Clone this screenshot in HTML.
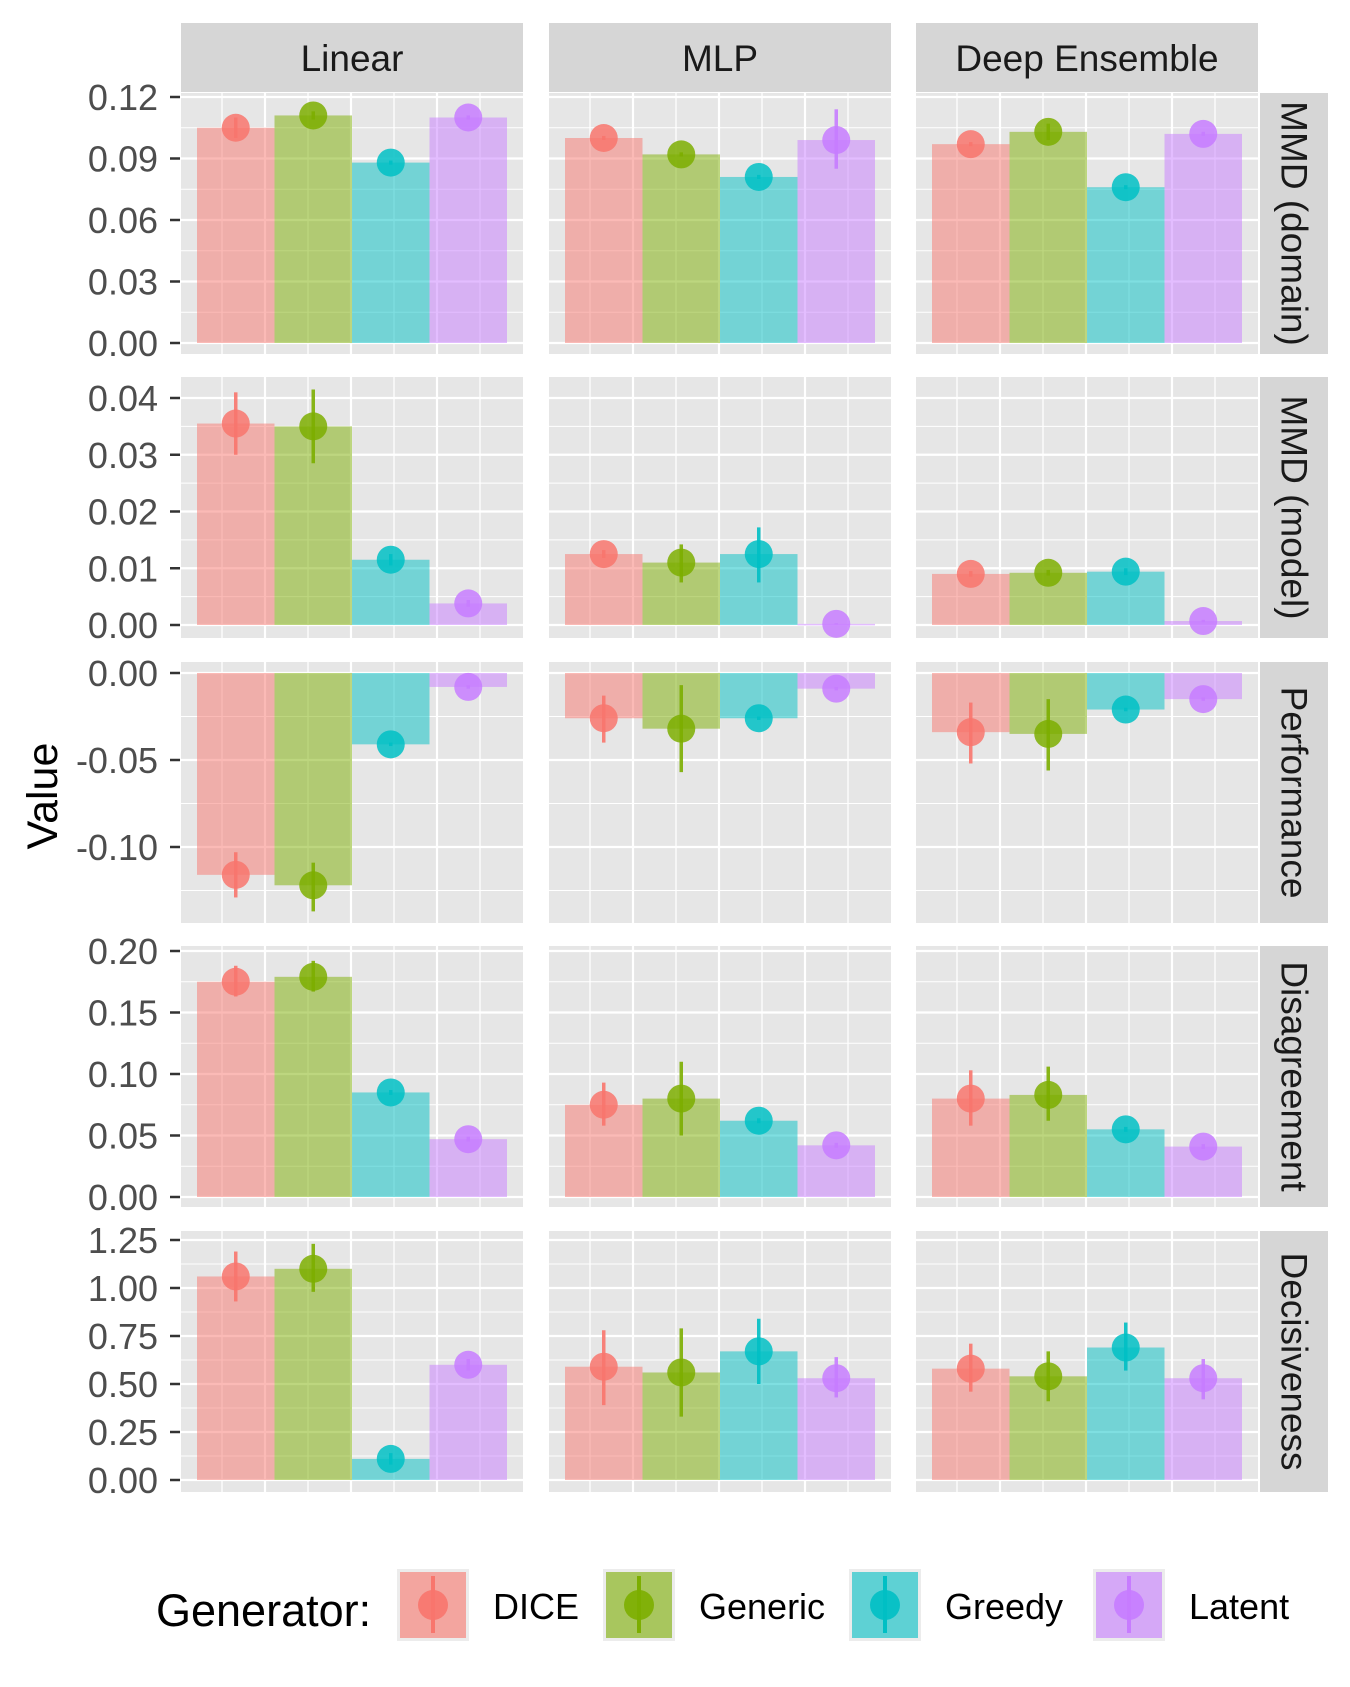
<!DOCTYPE html>
<html><head><meta charset="utf-8"><style>
body{margin:0;background:#fff;}
svg{display:block;font-family:"Liberation Sans",sans-serif;}
</style></head><body>
<svg id="chart" width="1350" height="1687" viewBox="0 0 1350 1687" xmlns="http://www.w3.org/2000/svg"></svg>
<script>
const models = ["Linear","MLP","Deep Ensemble"];
const metrics = ["MMD (domain)","MMD (model)","Performance","Disagreement","Decisiveness"];
const generators = ["DICE","Generic","Greedy","Latent"];
const mmdDomainMean = [[0.105,0.111,0.088,0.110],[0.100,0.092,0.081,0.099],[0.097,0.103,0.076,0.102]];
const mmdDomainLo   = [[0.100,0.109,0.087,0.109],[0.099,0.091,0.080,0.085],[0.096,0.099,0.075,0.101]];
const mmdDomainHi   = [[0.110,0.113,0.089,0.111],[0.101,0.093,0.082,0.114],[0.098,0.107,0.077,0.103]];
const mmdModelMean = [[0.0355,0.035,0.0115,0.0038],[0.0125,0.011,0.0125,0.0002],[0.009,0.0092,0.0094,0.0007]];
const mmdModelLo   = [[0.030,0.0285,0.0105,0.0032],[0.0118,0.0075,0.0075,0.0001],[0.0085,0.0087,0.0088,0.0005]];
const mmdModelHi   = [[0.041,0.0415,0.0125,0.0044],[0.0132,0.0142,0.0172,0.0003],[0.0095,0.0097,0.0100,0.0009]];
const perfMean = [[-0.116,-0.122,-0.041,-0.008],[-0.026,-0.032,-0.026,-0.009],[-0.034,-0.035,-0.021,-0.015]];
const perfLo   = [[-0.129,-0.137,-0.042,-0.009],[-0.040,-0.057,-0.027,-0.010],[-0.052,-0.056,-0.022,-0.016]];
const perfHi   = [[-0.103,-0.109,-0.040,-0.007],[-0.013,-0.007,-0.025,-0.008],[-0.017,-0.015,-0.020,-0.014]];
const disMean = [[0.175,0.179,0.085,0.047],[0.075,0.080,0.062,0.042],[0.080,0.083,0.055,0.041]];
const disLo   = [[0.163,0.167,0.083,0.045],[0.058,0.050,0.060,0.040],[0.058,0.062,0.053,0.039]];
const disHi   = [[0.188,0.192,0.087,0.049],[0.093,0.110,0.064,0.044],[0.103,0.106,0.057,0.043]];
const decMean = [[1.06,1.10,0.11,0.60],[0.59,0.56,0.67,0.53],[0.58,0.54,0.69,0.53]];
const decLo   = [[0.93,0.98,0.08,0.57],[0.39,0.33,0.50,0.43],[0.46,0.41,0.57,0.42]];
const decHi   = [[1.19,1.23,0.14,0.63],[0.78,0.79,0.84,0.64],[0.71,0.67,0.82,0.63]];
const tickLabels1 = ["0.00","0.03","0.06","0.09","0.12"];
const tickVals1 = [0,0.03,0.06,0.09,0.12];
const tickLabels2 = ["0.00","0.01","0.02","0.03","0.04"];
const tickVals2 = [0,0.01,0.02,0.03,0.04];
const tickLabels3 = ["0.00","-0.05","-0.10"];
const tickVals3 = [0,-0.05,-0.10];
const tickLabels4 = ["0.00","0.05","0.10","0.15","0.20"];
const tickVals4 = [0,0.05,0.10,0.15,0.20];
const tickLabels5 = ["0.00","0.25","0.50","0.75","1.00","1.25"];
const tickVals5 = [0,0.25,0.5,0.75,1.0,1.25];

const colors=["#F8766D","#7CAE00","#00BFC4","#C77CFF"];
const svg=document.getElementById('chart');
const NS="http://www.w3.org/2000/svg";
function mk(tag,attrs,parent){const e=document.createElementNS(NS,tag);for(const k in attrs)e.setAttribute(k,attrs[k]);(parent||svg).appendChild(e);return e;}

const colX=[181,549,916], colW=342;
const rowY=[93,377,662,946,1231], rowH=261;
const anchors=[[0.12,97,0,343],[0.04,398,0,625],[0,673,-0.10,847],[0.20,951,0,1197],[1.25,1240,0,1480]];
const means=[mmdDomainMean,mmdModelMean,perfMean,disMean,decMean];
const los=[mmdDomainLo,mmdModelLo,perfLo,disLo,decLo];
const his=[mmdDomainHi,mmdModelHi,perfHi,disHi,decHi];
const tLabs=[tickLabels1,tickLabels2,tickLabels3,tickLabels4,tickLabels5];
const tVals=[tickVals1,tickVals2,tickVals3,tickVals4,tickVals5];
function yScale(r){const a=anchors[r];return v=>a[1]+(v-a[0])*(a[3]-a[1])/(a[2]-a[0]);}
function xBand(c,g){const pad=16,bw=(colW-2*pad)/4;return {x:colX[c]+pad+g*bw,w:bw,cx:colX[c]+pad+g*bw+bw/2};}

models.forEach((m,c)=>{
  const s=mk('rect',{x:colX[c],y:23,width:colW,height:69,fill:'#d6d6d6'});
  
  
  const t=mk('text',{x:colX[c]+colW/2,y:71,'text-anchor':'middle','font-size':37,fill:'#1a1a1a'});
  t.textContent=m;
  
  
});
metrics.forEach((m,r)=>{
  const s=mk('rect',{x:1260,y:rowY[r],width:68,height:rowH,fill:'#d6d6d6'});
  
  
  const cx=1294,cy=rowY[r]+rowH/2;
  const t=mk('text',{x:cx,y:cy,'text-anchor':'middle','dominant-baseline':'central','font-size':37,fill:'#1a1a1a',transform:'rotate(90 '+cx+' '+cy+')'});
  t.textContent=m;
  
  
});

metrics.forEach((m,r)=>{
  const y=yScale(r);
  const step=Math.abs(tVals[r][1]-tVals[r][0]);
  tVals[r].forEach((v,i)=>{
    const py=y(v);
    const tk=mk('line',{x1:170,x2:180,y1:py,y2:py,stroke:'#333','stroke-width':2.5});
    
    
    const tl=mk('text',{x:158,y:py+13,'text-anchor':'end','font-size':36,fill:'#4d4d4d'});
    tl.textContent=tLabs[r][i];
    
    
  });
  models.forEach((md,c)=>{
    const g=mk('g',{});
    
    
    mk('rect',{x:colX[c],y:rowY[r],width:colW,height:rowH,fill:'#e6e6e6'},g);
    const vmin=Math.min(...tVals[r]);
    for(let i=0;i<40;i++){
      const v=vmin-step+i*step/2;
      const py=y(v);
      if(py<rowY[r]||py>rowY[r]+rowH)continue;
      const major=(i%2===0);
      mk('line',{x1:colX[c],x2:colX[c]+colW,y1:py,y2:py,stroke:'#fff','stroke-width':major?2.2:1.1},g);
    }
    for(let i=0;i<7;i++){
      const px=colX[c]+41+43*i;
      mk('line',{x1:px,x2:px,y1:rowY[r],y2:rowY[r]+rowH,stroke:'#fff','stroke-width':i%2?2.2:1.3},g);
    }
    generators.forEach((gn,k)=>{
      const b=xBand(c,k);
      const v=means[r][c][k];
      const y0=y(0),y1=y(v);
      const bar=mk('rect',{x:b.x,y:Math.min(y0,y1),width:b.w,height:Math.max(Math.abs(y1-y0),1.5),fill:colors[k],'fill-opacity':0.5});
      
      
      const eb=mk('line',{x1:b.cx,x2:b.cx,y1:y(los[r][c][k]),y2:y(his[r][c][k]),stroke:colors[k],'stroke-width':3.5,'stroke-opacity':0.9});
      
      
      const pt=mk('circle',{cx:b.cx,cy:y1,r:14,fill:colors[k],'fill-opacity':0.85});
      
      
    });
  });
});

const yt=mk('text',{x:57,y:796,'text-anchor':'middle','font-size':43,fill:'#000',transform:'rotate(-90 57 796)'});
yt.textContent='Value';



const lt=mk('text',{x:156,y:1626,'font-size':45,fill:'#000'});
lt.textContent='Generator:';


const keyX=[397,603,849,1093];
generators.forEach((gn,k)=>{
  const g=mk('g',{});
  
  
  const kx=keyX[k];
  mk('rect',{x:kx,y:1569,width:72,height:72,fill:'#ececec'},g);
  mk('rect',{x:kx+3,y:1572,width:66,height:66,fill:colors[k],'fill-opacity':0.6},g);
  mk('line',{x1:kx+36,x2:kx+36,y1:1576,y2:1633,stroke:colors[k],'stroke-width':4},g);
  mk('circle',{cx:kx+36,cy:1605,r:15,fill:colors[k],'fill-opacity':0.9},g);
  const t=mk('text',{x:kx+96,y:1619,'font-size':36,fill:'#000'},g);
  t.textContent=gn;
});
</script>
</body></html>
